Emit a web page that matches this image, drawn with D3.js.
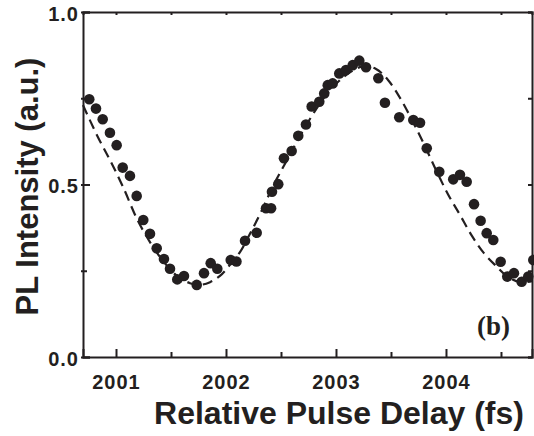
<!DOCTYPE html>
<html>
<head>
<meta charset="utf-8">
<script src="https://cdn.jsdelivr.net/npm/d3@7"></script>
<style>
  body { margin: 0; background: #fff; }
  text { font-family: 'Liberation Sans', Arial, Helvetica, sans-serif; font-weight: bold; fill: #231f20; }
  .axis path, .axis line { stroke: #231f20; stroke-width: 2; }
</style>
</head>
<body>
<svg width="534" height="436"></svg>
<script>

// measured points (delay in fs, PL intensity in a.u.)
const delay = [
  2000.757, 2000.818, 2000.879, 2000.945, 2001.006, 2001.061, 2001.127, 2001.188, 2001.248, 2001.309,
  2001.370, 2001.436, 2001.491, 2001.557, 2001.618, 2001.734, 2001.800, 2001.861, 2001.921, 2002.043,
  2002.095, 2002.173, 2002.279, 2002.364, 2002.410, 2002.418, 2002.475, 2002.527, 2002.597, 2002.657,
  2002.727, 2002.779, 2002.848, 2002.893, 2002.925, 2002.970, 2003.030, 2003.091, 2003.152, 2003.212,
  2003.273, 2003.385, 2003.445, 2003.575, 2003.703, 2003.764, 2003.825, 2003.939, 2004.066, 2004.127,
  2004.188, 2004.255, 2004.315, 2004.370, 2004.430, 2004.497, 2004.557, 2004.618, 2004.688, 2004.748,
  2004.794
]
const intensity = [
  0.747, 0.720, 0.689, 0.650, 0.614, 0.549, 0.525, 0.467, 0.397, 0.357,
  0.315, 0.284, 0.256, 0.225, 0.235, 0.209, 0.243, 0.272, 0.256, 0.281,
  0.277, 0.337, 0.360, 0.431, 0.431, 0.479, 0.501, 0.576, 0.597, 0.641,
  0.674, 0.726, 0.740, 0.764, 0.788, 0.793, 0.822, 0.832, 0.846, 0.859,
  0.840, 0.808, 0.737, 0.695, 0.687, 0.679, 0.605, 0.537, 0.515, 0.528,
  0.508, 0.443, 0.395, 0.359, 0.339, 0.276, 0.233, 0.243, 0.218, 0.233,
  0.281
]

// dashed fit curve
const fitDelay = [
  2000.700, 2000.827, 2000.945, 2001.064, 2001.191, 2001.309, 2001.436, 2001.555, 2001.673, 2001.764,
  2001.855, 2001.945, 2002.036, 2002.127, 2002.218, 2002.327, 2002.436, 2002.555, 2002.673, 2002.791,
  2002.909, 2003.027, 2003.145, 2003.255, 2003.364, 2003.473, 2003.582, 2003.691, 2003.800, 2003.909,
  2004.018, 2004.127, 2004.236, 2004.345, 2004.455, 2004.564, 2004.673, 2004.782
]
const fitIntensity = [
  0.730, 0.643, 0.571, 0.493, 0.400, 0.333, 0.275, 0.235, 0.214, 0.209,
  0.217, 0.235, 0.267, 0.304, 0.357, 0.426, 0.501, 0.571, 0.641, 0.704,
  0.759, 0.800, 0.829, 0.843, 0.835, 0.803, 0.751, 0.687, 0.617, 0.542,
  0.472, 0.412, 0.351, 0.301, 0.264, 0.232, 0.217, 0.220
]

const xTicks = [2001, 2001.5, 2002, 2002.5, 2003, 2003.5, 2004, 2004.5]
const xTickLabels = ['2001', '', '2002', '', '2003', '', '2004', '']
const yTicks = [0, 0.25, 0.5, 0.75, 1.0]
const yTickLabels = ['0.0', '', '0.5', '', '1.0']

const svg = d3.select('svg')

const margin = { top: 12, right: 2, bottom: 79, left: 83 }
const width = +svg.attr('width')
const height = +svg.attr('height')

const xScale = d3.scaleLinear()
  .domain([2000.7, 2004.782])
  .range([margin.left, width - margin.right])

const yScale = d3.scaleLinear()
  .domain([0, 1])
  .range([height - margin.bottom, margin.top])

const isMajor = (ticks, d) => ticks.indexOf(d) % 2 === 0

// bottom axis
const xAxisG = svg.append('g')
  .attr('class', 'axis')
  .attr('transform', `translate(0, ${yScale(0)})`)
  .call(d3.axisBottom(xScale)
    .tickValues(xTicks)
    .tickSizeOuter(0)
    .tickSize(-8)
    .tickFormat((d, i) => xTickLabels[i]))
xAxisG.selectAll('.tick line')
  .attr('y2', d => isMajor(xTicks, d) ? -8 : -5)
xAxisG.selectAll('.tick text')
  .attr('y', 32)
  .attr('dy', null)
  .style('font-size', '20px')
  .style('letter-spacing', '1px')

// top axis
svg.append('g')
  .attr('class', 'axis')
  .attr('transform', `translate(0, ${yScale(1)})`)
  .call(d3.axisTop(xScale).tickValues(xTicks).tickSizeOuter(0).tickSize(-3).tickFormat(''))

// left axis
const yAxisG = svg.append('g')
  .attr('class', 'axis')
  .attr('transform', `translate(${xScale.range()[0]}, 0)`)
  .call(d3.axisLeft(yScale)
    .tickValues(yTicks)
    .tickSizeOuter(0)
    .tickSize(-7)
    .tickFormat((d, i) => yTickLabels[i]))
yAxisG.selectAll('.tick line')
  .attr('x1', -2)
  .attr('x2', d => isMajor(yTicks, d) ? 7 : 4)
yAxisG.selectAll('.tick text')
  .attr('x', -4)
  .attr('y', 8)
  .attr('dy', null)
  .style('font-size', '20px')
  .style('letter-spacing', '1px')

// right axis
svg.append('g')
  .attr('class', 'axis')
  .attr('transform', `translate(${xScale.range()[1]}, 0)`)
  .call(d3.axisRight(yScale).tickValues(yTicks).tickSizeOuter(0).tickSize(-4).tickFormat(''))

// fit curve
const fit = fitDelay.map((d, i) => ({ x: d, y: fitIntensity[i] }))
const line = d3.line()
  .x(d => xScale(d.x))
  .y(d => yScale(d.y))
  .curve(d3.curveCatmullRom)

svg.append('path')
  .datum(fit)
  .attr('d', line)
  .attr('fill', 'none')
  .attr('stroke', '#231f20')
  .attr('stroke-width', 2.2)
  .attr('stroke-dasharray', '10,6')

// data points
const points = delay.map((d, i) => ({ x: d, y: intensity[i] }))
svg.selectAll('.dot')
  .data(points)
  .enter()
  .append('circle')
  .attr('class', 'dot')
  .attr('cx', d => xScale(d.x))
  .attr('cy', d => yScale(d.y))
  .attr('r', 5.3)
  .attr('fill', '#231f20')

// labels
svg.append('text')
  .attr('x', 339)
  .attr('y', 424)
  .attr('text-anchor', 'middle')
  .style('font-size', '32px')
  .text('Relative Pulse Delay (fs)')

svg.append('text')
  .attr('transform', `translate(38, ${(yScale(0) + yScale(1)) / 2 + 2}) rotate(-90)`)
  .attr('text-anchor', 'middle')
  .style('font-size', '31px')
  .text('PL Intensity (a.u.)')

svg.append('text')
  .attr('x', 510)
  .attr('y', 335)
  .attr('text-anchor', 'end')
  .style('font-family', "'Liberation Serif', 'Times New Roman', serif")
  .style('font-size', '27px')
  .text('(b)')

</script>
</body>
</html>
